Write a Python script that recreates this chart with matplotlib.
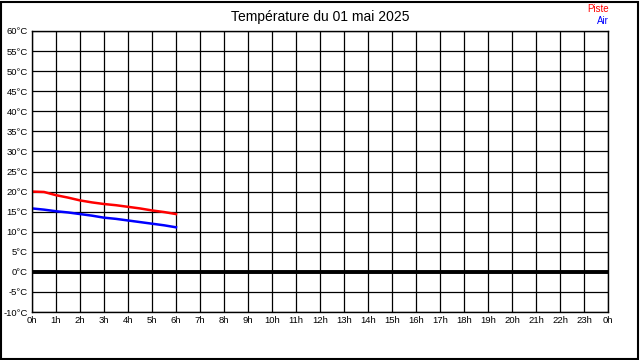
import matplotlib
matplotlib.use('Agg')
import matplotlib.pyplot as plt
from matplotlib.patches import Rectangle

plt.rcParams['font.family'] = ['Liberation Sans', 'DejaVu Sans']

# données relevées (heures, °C)
heures = [0, 0.5, 1, 1.5, 2, 2.5, 3, 3.5, 4, 4.5, 5, 5.5, 6]
piste = [20.0, 19.9, 19.1, 18.5, 17.8, 17.3, 16.9, 16.6, 16.2, 15.8, 15.3, 14.9, 14.4]
air = [15.8, 15.5, 15.1, 14.8, 14.4, 14.0, 13.5, 13.2, 12.8, 12.4, 12.0, 11.6, 11.1]

x_ticks = list(range(0, 25))
x_labels = [f'{h % 24}h' for h in x_ticks]
y_ticks = list(range(-10, 61, 5))
y_labels = [f'{t}°C' for t in y_ticks]

fig = plt.figure(figsize=(6.4, 3.6), dpi=100)
ax = fig.add_axes([32/640, 1 - 312/360, 576/640, 281/360])

ax.set_xlim(0, 24)
ax.set_ylim(-10, 60)
ax.set_xticks(x_ticks)
ax.set_xticklabels(x_labels)
ax.set_yticks(y_ticks)
ax.set_yticklabels(y_labels)
ax.tick_params(length=0, labelsize=6.8, pad=3)
ax.grid(True, color='black', linewidth=0.9)
ax.set_axisbelow(True)
for s in ax.spines.values():
    s.set_linewidth(1)

# ligne du zéro
ax.axhline(0, color='black', linewidth=2.8)

ax.plot(heures, piste, color='red', linewidth=1.8)
ax.plot(heures, air, color='blue', linewidth=1.8)

fig.text(320/640, 1 - 17/360, 'Température du 01 mai 2025', ha='center', va='center', fontsize=10)
fig.text(609/640, 1 - 9.5/360, 'Piste', ha='right', va='center', fontsize=7, color='red')
fig.text(609/640, 1 - 20.5/360, 'Air', ha='right', va='center', fontsize=7, color='blue')

# cadre extérieur
fig.patches.append(Rectangle((1/640, 1/360), 637/640, 357/360, transform=fig.transFigure,
                             fill=False, edgecolor='black', linewidth=1.5))

fig.savefig('out.png', dpi=100)
